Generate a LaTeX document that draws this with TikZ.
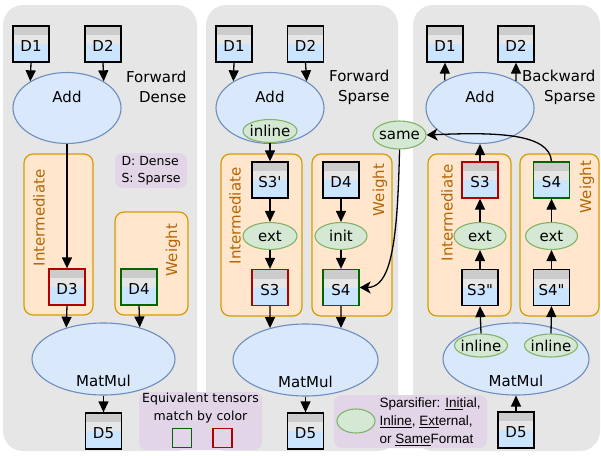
\documentclass[tikz,border=0pt]{standalone}
\usepackage{fontspec}
\setmainfont{DejaVu Sans}
\newfontfamily\legfont{Liberation Sans}
\usepackage{tikz}
\usetikzlibrary{arrows.meta,shapes.geometric}
\definecolor{panelgray}{HTML}{E6E6E6}
\definecolor{opfill}{HTML}{DAE8FC}
\definecolor{opline}{HTML}{6C8EBF}
\definecolor{spfill}{HTML}{D5E8D4}
\definecolor{spline}{HTML}{82B366}
\definecolor{grpfill}{HTML}{FFE6CC}
\definecolor{grpline}{HTML}{D79B00}
\definecolor{grptext}{HTML}{B46504}
\definecolor{legfill}{HTML}{E1D5E7}
\definecolor{tstrip}{HTML}{CCCCCC}
\definecolor{tmid}{HTML}{E6E6E6}
\definecolor{tblue}{HTML}{CCE5FF}
\definecolor{matchred}{HTML}{B20000}
\definecolor{matchgreen}{HTML}{006600}
\newcommand{\mainsize}{\fontsize{15}{20}\selectfont}
\newcommand{\keysize}{\fontsize{12.5}{17.5}\selectfont}

\begin{document}
\begin{tikzpicture}[
  x=1pt, y=-1pt,
  panel/.style={fill=panelgray, rounded corners=20pt, minimum height=446pt, inner sep=0pt},
  group/.style={draw=grpline, fill=grpfill, line width=1.2pt, rounded corners=9pt, inner sep=0pt},
  grouplabel/.style={rotate=90, text=grptext, font=\mainsize},
  tensor/.style={draw=black, line width=1.3pt, fill=tmid, minimum width=36pt, minimum height=36pt, inner sep=0pt, text height=15pt, text depth=0pt, font=\mainsize,
    path picture={
      \fill[tstrip] (path picture bounding box.north west) rectangle ([yshift=-9pt]path picture bounding box.north east);
      \fill[tblue] (path picture bounding box.west) rectangle (path picture bounding box.south east);
    }},
  op/.style={ellipse, draw=opline, fill=opfill, line width=1.1pt, inner sep=0pt},
  oplabel/.style={font=\mainsize},
  spars/.style={ellipse, draw=spline, fill=spfill, line width=1.1pt, inner xsep=-4pt, inner ysep=0pt, minimum width=54pt, minimum height=25pt, font=\mainsize},
  legend/.style={fill=legfill, rounded corners=8pt, inner sep=0pt},
  title/.style={align=right, anchor=east, font=\mainsize},
  flow/.style={-{Triangle[length=11pt,width=10pt]}, line width=1.3pt},
  link/.style={-{Stealth[length=11pt,width=12pt,inset=3pt]}, line width=1.3pt}
]
\useasboundingbox (0,0) rectangle (601,455);
% panels
\node[panel, minimum width=194pt] (fdPanel) at (100,228) {};
\node[panel, minimum width=192pt] (fsPanel) at (302,228) {};
\node[panel, minimum width=187pt] (bsPanel) at (506.5,228) {};
% groups
\node[group, minimum width=69pt, minimum height=161pt] (fdInter) at (58.5,234.5) {};
\node[group, minimum width=73pt, minimum height=103pt] (fdWeight) at (151.5,263.5) {};
\node[group, minimum width=81pt, minimum height=162pt] (fsInter) at (261.5,235) {};
\node[group, minimum width=80pt, minimum height=162pt] (fsWeight) at (352,235) {};
\node[group, minimum width=83pt, minimum height=162pt] (bsInter) at (469.5,235) {};
\node[group, minimum width=79pt, minimum height=162pt] (bsWeight) at (559.5,235) {};
\node[grouplabel] (fdInterLbl) at (39,218) {Intermediate};
\node[grouplabel] (fdWeightLbl) at (173,250) {Weight};
\node[grouplabel] (fsInterLbl) at (235,216) {Intermediate};
\node[grouplabel] (fsWeightLbl) at (380,190) {Weight};
\node[grouplabel] (bsInterLbl) at (447,213) {Intermediate};
\node[grouplabel] (bsWeightLbl) at (587,187) {Weight};
% legends
\node[legend, minimum width=72pt, minimum height=35pt, align=left, font=\keysize] (fdKey) at (151,170.5) {D: Dense\\S: Sparse};
\node[legend, minimum width=123pt, minimum height=58pt] (eqKey) at (200.5,421) {};
\node[align=center, font=\keysize] (eqText) at (200.5,408) {Equivalent tensors\\match by color};
\node[draw=matchgreen, line width=1.2pt, minimum size=19pt, inner sep=0pt] (eqGreen) at (182,438) {};
\node[draw=matchred, line width=1.2pt, minimum size=19pt, inner sep=0pt] (eqRed) at (222.5,438) {};
\node[legend, minimum width=153pt, minimum height=53pt] (spKey) at (410.5,421.5) {};
\node[spars, minimum width=38pt, minimum height=24pt] (spKeyMark) at (356,421) {};
\node[anchor=west, align=left, font=\legfont\fontsize{13.5}{18}\selectfont] (spKeyText) at (376,422) {Sparsifier: \underline{Init}ial,\\\underline{Inline}, \underline{Ext}ernal,\\or \underline{Same}Format};
% forward dense
\node[title] (fdTitle) at (190,87) {Forward\\Dense};
\node[tensor] (fdD1) at (31,44) {D1};
\node[tensor] (fdD2) at (103,44) {D2};
\node[op, minimum width=108pt, minimum height=71pt, label={[oplabel, yshift=11pt]center:Add}] (fdAdd) at (67,108) {};
\node[tensor, draw=matchred] (fdD3) at (67,287) {D3};
\node[tensor, draw=matchgreen] (fdD4) at (139,287) {D4};
\node[op, minimum width=143pt, minimum height=72pt, label={[oplabel, yshift=-22pt]center:MatMul}] (fdMatMul) at (103.5,359) {};
\node[tensor] (fdD5) at (103.5,431) {D5};
% forward sparse
\node[title] (fsTitle) at (393,87) {Forward\\Sparse};
\node[tensor] (fsD1) at (234,44) {D1};
\node[tensor] (fsD2) at (305.5,44) {D2};
\node[op, minimum width=108pt, minimum height=71pt, label={[oplabel, yshift=11pt]center:Add}] (fsAdd) at (270,108) {};
\node[spars, minimum height=23pt] (fsInline) at (270,131) {inline};
\node[tensor] (fsS3p) at (270,180) {S3\textquotesingle};
\node[spars, minimum height=27pt] (fsExt) at (270,236) {ext};
\node[tensor, draw=matchred] (fsS3) at (270,287.5) {S3};
\node[tensor] (fsD4) at (341,180) {D4};
\node[spars, minimum width=52pt, minimum height=27pt] (fsInit) at (341,236) {init};
\node[tensor, draw=matchgreen] (fsS4) at (341,287.5) {S4};
\node[op, minimum width=145pt, minimum height=72pt, label={[oplabel, yshift=-22pt]center:MatMul}] (fsMatMul) at (305.5,360) {};
\node[tensor] (fsD5) at (305.5,431) {D5};
\node[spars, minimum width=53pt, minimum height=28pt] (same) at (399.5,135) {same};
% backward sparse
\node[title] (bsTitle) at (599,87) {Backward\\Sparse};
\node[tensor] (bsD1) at (445,44) {D1};
\node[tensor] (bsD2) at (516,44) {D2};
\node[op, minimum width=108pt, minimum height=71pt, label={[oplabel, yshift=11pt]center:Add}] (bsAdd) at (480,108) {};
\node[tensor, draw=matchred] (bsS3) at (480,180) {S3};
\node[spars, minimum width=52pt, minimum height=27pt] (bsExtA) at (480,236) {ext};
\node[tensor] (bsS3pp) at (480,287.5) {S3\textquotedbl};
\node[tensor, draw=matchgreen] (bsS4) at (551.5,180) {S4};
\node[spars, minimum width=52pt, minimum height=27pt] (bsExtB) at (551.5,236) {ext};
\node[tensor] (bsS4pp) at (551.5,287.5) {S4\textquotedbl};
\node[op, minimum width=146pt, minimum height=72pt, label={[oplabel, yshift=-22pt]center:MatMul}] (bsMatMul) at (516,359) {};
\node[spars, minimum width=53pt, minimum height=23pt] (bsInlineA) at (481,345.5) {inline};
\node[spars, minimum width=53pt, minimum height=23pt] (bsInlineB) at (551,345.5) {inline};
\node[tensor] (bsD5) at (516,430) {D5};
% connectors
\draw[flow] (fdD1.south) -- (fdAdd.144);
\draw[flow] (fdD2.south) -- (fdAdd.36);
\draw[flow] (fdAdd.south) -- (fdD3.north);
\draw[flow] (fdD3.south) -- (fdMatMul.140);
\draw[flow] (fdD4.south) -- (fdMatMul.41);
\draw[flow] (fdMatMul.south) -- (fdD5.north);
\draw[flow] (fsD1.south) -- (fsAdd.144);
\draw[flow] (fsD2.south) -- (fsAdd.36);
\draw[flow] (fsInline.south) -- (fsS3p.north);
\draw[flow] (fsS3p) -- (fsExt);
\draw[flow] (fsExt) -- (fsS3);
\draw[flow] (fsD4) -- (fsInit);
\draw[flow] (fsInit) -- (fsS4);
\draw[flow] (fsS3.south) -- (fsMatMul.138);
\draw[flow] (fsS4.south) -- (fsMatMul.42);
\draw[flow] (fsMatMul.south) -- (fsD5.north);
\draw[flow] (bsAdd.142) -- (bsD1.south);
\draw[flow] (bsAdd.37) -- (bsD2.south);
\draw[flow] (bsS3.north) -- (bsAdd.south);
\draw[flow] (bsExtA) -- (bsS3);
\draw[flow] (bsS3pp) -- (bsExtA);
\draw[flow] (bsInlineA.north) -- (bsS3pp.south);
\draw[flow] (bsExtB) -- (bsS4);
\draw[flow] (bsS4pp) -- (bsExtB);
\draw[flow] (bsInlineB.north) -- (bsS4pp.south);
\draw[flow] (bsD5.north) -- (bsMatMul.south);
\draw[link] (same.south) .. controls +(-2,100) and +(30,0) .. (fsS4.east);
\draw[link] (bsS4.north) .. controls +(-2,-28) and +(70,-3) .. (same.east);
\end{tikzpicture}
\end{document}
